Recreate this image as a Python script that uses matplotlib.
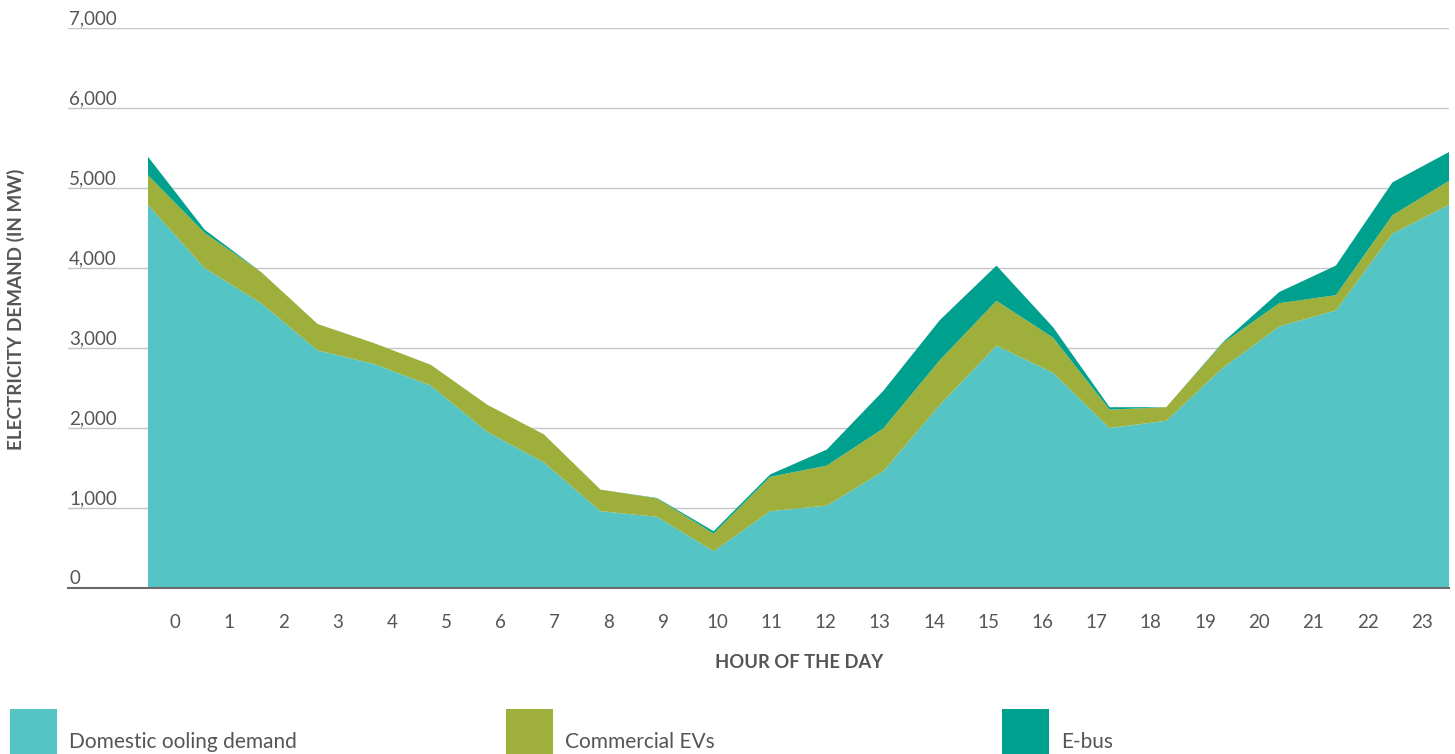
import numpy as np
import matplotlib
matplotlib.use("Agg")
import matplotlib.pyplot as plt
import matplotlib.transforms as mtransforms
from matplotlib.patches import Rectangle

plt.rcParams['font.family'] = ['Lato', 'DejaVu Sans']

# Data (MW), read per hour
hours = [str(h) for h in range(24)]
domestic = [4790, 4000, 3560, 2970, 2800, 2530, 1950, 1570, 960, 890, 460, 960,
            1030, 1460, 2290, 3030, 2690, 2000, 2090, 2750, 3270, 3470, 4430, 4790]
commercial_evs = [370, 440, 390, 330, 260, 260, 340, 350, 270, 230, 220, 430,
                  500, 535, 560, 560, 440, 230, 170, 310, 290, 190, 230, 300]
ebus = [230, 40, 0, 0, 0, 0, 0, 0, 0, 5, 30, 30,
        200, 470, 500, 440, 130, 30, 0, 10, 140, 370, 410, 360]
series_names = ['Domestic ooling demand', 'Commercial EVs', 'E-bus']
colors = ['#55C4C4', '#9EAF3C', '#00A08F']
yticks = [0, 1000, 2000, 3000, 4000, 5000, 6000, 7000]

W, H = 1455, 754
fig = plt.figure(figsize=(W / 100, H / 100), dpi=100)
ax = fig.add_axes([68 / W, 1 - 588 / H, (1449 - 68) / W, (588 - 28) / H])

# area points spread over the full band, labels at band centres
n = len(domestic)
x = np.arange(n) * 24 / (n - 1)
ax.stackplot(x, domestic, commercial_evs, ebus, colors=colors, linewidth=0, zorder=2)

ax.set_xlim(-80 / (1301 / 24), 24)
ax.set_ylim(0, 7000)

ax.set_yticks(yticks)
ax.yaxis.grid(True, color='#c6c6c6', linewidth=1, zorder=0)
ax.set_axisbelow(True)
ax.tick_params(axis='y', length=0, labelleft=False)

ax.set_xticks(np.arange(24) + 0.5)
ax.set_xticklabels(hours, fontsize=13.5, color='#555555')
ax.tick_params(axis='x', length=0, pad=19)

for s in ['top', 'right', 'left']:
    ax.spines[s].set_visible(False)
ax.spines['bottom'].set_color('#6a6a6a')
ax.spines['bottom'].set_linewidth(1.5)
ax.spines['bottom'].set_zorder(3)

# y tick labels sit above the gridlines
trans = mtransforms.blended_transform_factory(ax.transAxes, ax.transData)
trans = mtransforms.offset_copy(trans, fig=fig, x=1, y=4, units='dots')
for v in yticks:
    ax.text(0, v, f'{v:,}', transform=trans, ha='left', va='baseline',
            fontsize=13.5, color='#555555')

fig.text(799 / W, 1 - 662 / H, 'HOUR OF THE DAY', ha='center', va='center',
         fontsize=13.2, fontweight='bold', color='#555555')
fig.text(16 / W, 1 - 309 / H, 'ELECTRICITY DEMAND (IN MW)', rotation=90,
         ha='center', va='center', fontsize=13.6, fontweight='bold', color='#555555')

# legend along the bottom edge
for i, (name, c) in enumerate(zip(series_names, colors)):
    x0 = 10 + i * 496
    fig.patches.append(Rectangle((x0 / W, 0), 47 / W, 45 / H, transform=fig.transFigure,
                                 facecolor=c, edgecolor='none'))
    fig.text((x0 + 59) / W, 1 - 748 / H, name, ha='left', va='baseline',
             fontsize=15, color='#555555')

fig.savefig('out.png', dpi=100)
